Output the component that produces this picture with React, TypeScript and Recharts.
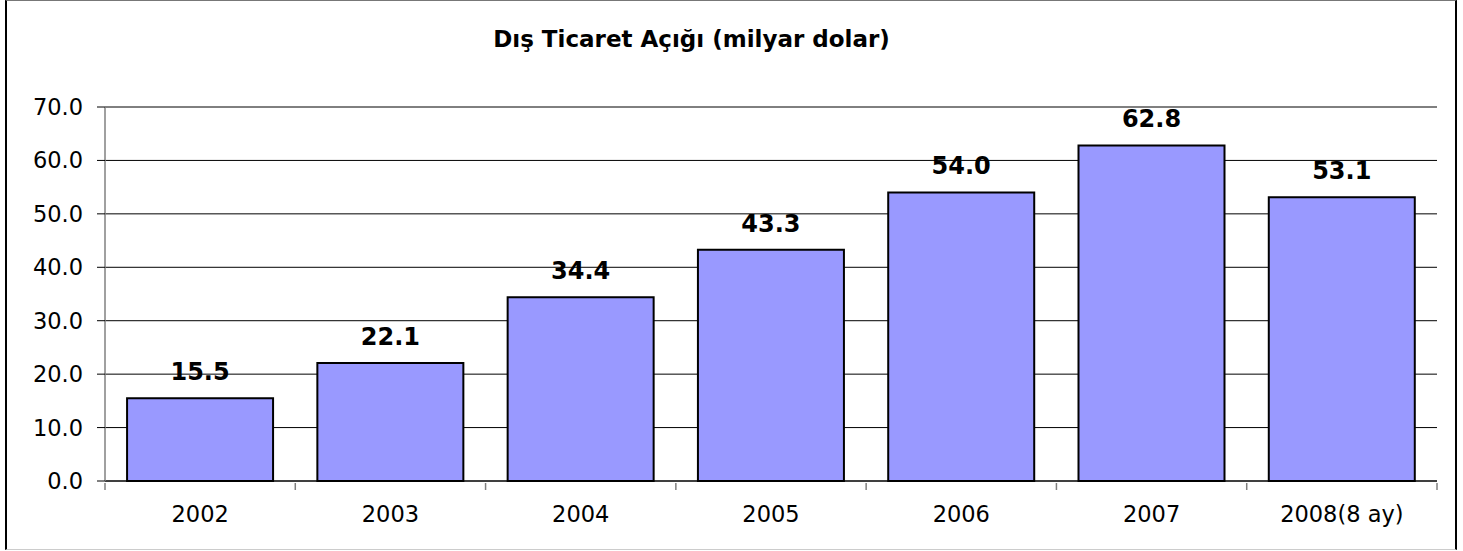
import { Bar, BarChart, CartesianGrid, LabelList, XAxis, YAxis } from "recharts"

const YEARS = ["2002", "2003", "2004", "2005", "2006", "2007", "2008(8 ay)"]
const DEFICIT = [15.5, 22.1, 34.4, 43.3, 54.0, 62.8, 53.1]
const Y_TICKS = [0, 10, 20, 30, 40, 50, 60, 70]

const W = 1463
const H = 551
const MARGIN = { top: 107, right: 26, left: 0, bottom: 0 }
const Y_W = 105
const X_H = 70
const BAND = (W - MARGIN.left - MARGIN.right - Y_W) / YEARS.length
const FONT = "'DejaVu Sans', Verdana, sans-serif"

const data = YEARS.map((name, i) => ({ name, value: DEFICIT[i] }))

// category tick: label in the middle, little tick mark at the band edges
function YearTick(props: any) {
  const { x, y, payload, index } = props
  const left = x - BAND / 2
  return (
    <g>
      <line x1={left} y1={y} x2={left} y2={y + 7} stroke="#808080" strokeWidth={1.5} />
      {index === YEARS.length - 1 && (
        <line x1={left + BAND} y1={y} x2={left + BAND} y2={y + 7} stroke="#808080" strokeWidth={1.5} />
      )}
      <text x={x} y={y + 39} textAnchor="middle" fontFamily={FONT} fontSize={22.5} fill="#000">
        {payload.value}
      </text>
    </g>
  )
}

export default function App() {
  return (
    <div style={{ position: "absolute", left: 0, top: 0, width: W, height: H, background: "#fff" }}>
      <div
        style={{
          position: "absolute",
          left: 5,
          top: 0,
          width: 1448,
          height: 548,
          borderLeft: "2px solid #000",
          borderRight: "2px solid #000",
          borderTop: "1px solid #777",
          borderBottom: "1px solid #ccc",
        }}
      />
      <div
        style={{
          position: "absolute",
          left: 0,
          top: 26,
          width: 1383,
          textAlign: "center",
          fontFamily: FONT,
          fontWeight: "bold",
          fontSize: 23,
          color: "#000",
        }}
      >
        Dış Ticaret Açığı (milyar dolar)
      </div>
      <div style={{ position: "absolute", left: 0, top: 0 }}>
        <BarChart width={W} height={H} data={data} margin={MARGIN} barCategoryGap="11.6%">
          <CartesianGrid vertical={false} stroke="#000" strokeWidth={1} />
          <XAxis
            dataKey="name"
            height={X_H}
            tickLine={false}
            tickSize={0}
            axisLine={{ stroke: "#000", strokeWidth: 1 }}
            tick={<YearTick />}
            interval={0}
          />
          <YAxis
            width={Y_W}
            domain={[0, 70]}
            ticks={Y_TICKS}
            tickFormatter={(v: number) => v.toFixed(1)}
            tickSize={8}
            tickMargin={14}
            tickLine={{ stroke: "#000" }}
            axisLine={{ stroke: "#808080", strokeWidth: 1.5 }}
            tick={{ fill: "#000", fontSize: 22.5, fontFamily: FONT }}
          />
          <Bar dataKey="value" fill="#9999FF" stroke="#000" strokeWidth={2} isAnimationActive={false}>
            <LabelList
              dataKey="value"
              position="top"
              offset={18}
              formatter={(v: any) => Number(v).toFixed(1)}
              style={{ fontFamily: FONT, fontWeight: "bold", fontSize: 24, fill: "#000" }}
            />
          </Bar>
        </BarChart>
      </div>
    </div>
  )
}
